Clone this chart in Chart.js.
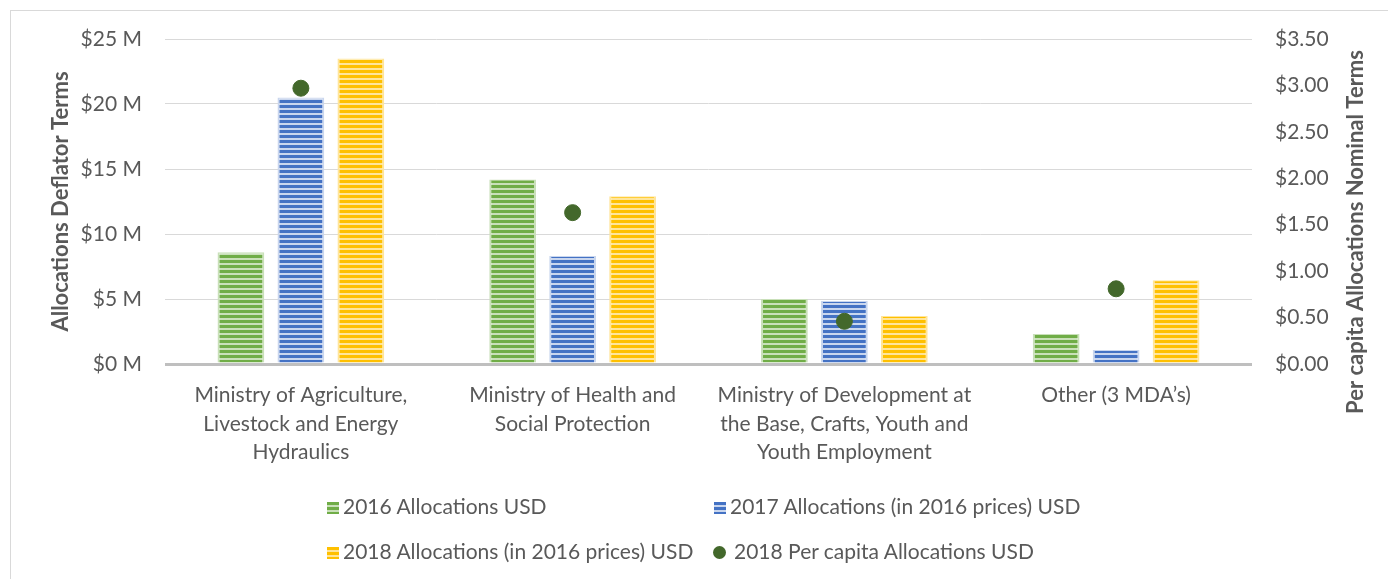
<!DOCTYPE html>
<html>
<head>
<meta charset="utf-8">
<script src="https://cdn.jsdelivr.net/npm/chart.js@4/dist/chart.umd.min.js"></script>
<style>
    body { margin: 0; background: #fff; }
    #wrap { position: relative; width: 1388px; height: 579px; overflow: hidden; }
    #frame { position: absolute; left: 10px; top: 10px; width: 1400px; height: 600px; border: 1px solid #d9d9d9; }
    canvas { position: absolute; left: 0; top: 0; }
    .lg { position: absolute; font: 21px Lato, 'Open Sans', sans-serif; color: #595959; white-space: nowrap; line-height: 24px; }
    .sw { display: inline-block; width: 12px; height: 12px; margin-right: 4px; vertical-align: 0px; }
    .dot { display: inline-block; width: 13px; height: 13px; border-radius: 50%; margin-right: 8px; vertical-align: 0px; }
</style>
</head>
<body>
<div id="wrap">
    <div id="frame"></div>
    <canvas id="rateChart" width="1388" height="579"></canvas>
    <div id="legend"></div>
</div>
<script>
// Categories and values
const categories = [
    ["Ministry of Agriculture,", "Livestock and Energy", "Hydraulics"],
    ["Ministry of Health and", "Social Protection"],
    ["Ministry of Development at", "the Base, Crafts, Youth and", "Youth Employment"],
    ["Other (3 MDA\u2019s)"]
];
const alloc2016 = [8.6, 14.2, 5.0, 2.3];
const alloc2017 = [20.5, 8.3, 4.85, 1.08];
const alloc2018 = [23.5, 12.9, 3.7, 6.45];
const perCapita2018 = [2.97, 1.63, 0.46, 0.81];
const leftTicks = [0, 5, 10, 15, 20, 25];
const rightTicks = [0, 0.5, 1, 1.5, 2, 2.5, 3, 3.5];

const seriesNames = [
    "2016 Allocations USD",
    "2017 Allocations (in 2016 prices) USD",
    "2018 Allocations (in 2016 prices) USD",
    "2018 Per capita Allocations USD"
];
const rightTitle = 'Per capita Allocations Nominal Terms';

const FONT = "Lato, 'Open Sans', sans-serif";
const TEXT = '#595959';

const canvas = document.getElementById('rateChart');
const ctx = canvas.getContext('2d');

// Horizontal striped fill like the Excel pattern
function stripes(base, light) {
    const c = document.createElement('canvas');
    c.width = 8;
    c.height = 5;
    const g = c.getContext('2d');
    g.fillStyle = base;
    g.fillRect(0, 0, 8, 5);
    g.fillStyle = light;
    g.fillRect(0, 3, 8, 2);
    return ctx.createPattern(c, 'repeat');
}

const colors = [
    { base: '#70AD47', light: '#c9e0b9' },
    { base: '#4472C4', light: '#c9d6ee' },
    { base: '#FFC000', light: '#ffe59a' }
];

function barSet(label, data, col) {
    return {
        type: 'bar',
        label: label,
        data: data,
        yAxisID: 'y',
        backgroundColor: stripes(col.base, col.light),
        borderColor: col.light,
        borderWidth: { left: 2, right: 2, top: 1, bottom: 0 },
        barPercentage: 0.78,
        categoryPercentage: 0.662,
        order: 1
    };
}

// right axis title sits a bit lower than centre in the original
const rightTitlePlugin = {
    id: 'rightTitle',
    afterDraw(c) {
        const g = c.ctx;
        g.save();
        g.translate(1356, 232);
        g.rotate(-Math.PI / 2);
        g.font = 'bold 22px ' + FONT;
        g.fillStyle = TEXT;
        g.textAlign = 'center';
        g.textBaseline = 'middle';
        g.fillText(rightTitle, 0, 0);
        g.restore();
    }
};

const chart = new Chart(ctx, {
    data: {
        labels: categories,
        datasets: [
            barSet(seriesNames[0], alloc2016, colors[0]),
            barSet(seriesNames[1], alloc2017, colors[1]),
            barSet(seriesNames[2], alloc2018, colors[2]),
            {
                type: 'line',
                label: seriesNames[3],
                data: perCapita2018,
                yAxisID: 'y1',
                showLine: false,
                pointRadius: 8,
                pointHoverRadius: 8,
                pointBackgroundColor: '#43682B',
                pointBorderColor: '#43682B',
                order: 0
            }
        ]
    },
    options: {
        responsive: false,
        animation: false,
        layout: { padding: { left: 48, right: 20, top: 39, bottom: 0 } },
        plugins: {
            legend: { display: false },
            tooltip: { enabled: false }
        },
        scales: {
            x: {
                grid: { display: false, drawTicks: false },
                border: { display: false },
                ticks: {
                    color: TEXT,
                    font: { family: FONT, size: 21, lineHeight: 1.36 },
                    padding: 17,
                    maxRotation: 0,
                    autoSkip: false
                },
                afterFit: s => { s.height = 215; }
            },
            y: {
                position: 'left',
                min: 0,
                max: 25,
                afterBuildTicks: s => { s.ticks = leftTicks.map(v => ({ value: v })); },
                grid: {
                    drawTicks: false,
                    color: c => c.tick && c.tick.value === 0 ? '#bfbfbf' : '#d9d9d9',
                    lineWidth: c => c.tick && c.tick.value === 0 ? 3 : 1
                },
                border: { display: false },
                ticks: {
                    color: TEXT,
                    font: { family: FONT, size: 21 },
                    padding: 23,
                    callback: v => '$' + v + ' M'
                },
                title: {
                    display: true,
                    text: 'Allocations Deflator Terms',
                    color: TEXT,
                    font: { family: FONT, size: 22, weight: 'bold' },
                    padding: 0
                },
                afterFit: s => { s.width = 117; }
            },
            y1: {
                position: 'right',
                min: 0,
                max: 3.5,
                afterBuildTicks: s => { s.ticks = rightTicks.map(v => ({ value: v })); },
                grid: { display: false, drawTicks: false },
                border: { display: false },
                ticks: {
                    color: TEXT,
                    font: { family: FONT, size: 21 },
                    padding: 23,
                    callback: v => '$' + v.toFixed(2)
                },
                afterFit: s => { s.width = 116; }
            }
        }
    },
    plugins: [rightTitlePlugin]
});

// Legend laid out as a 2x2 grid like the original
const legendPos = [
    { x: 327, y: 494 },
    { x: 714, y: 494 },
    { x: 327, y: 539 },
    { x: 713, y: 539 }
];
const legend = document.getElementById('legend');
seriesNames.forEach((name, i) => {
    const item = document.createElement('div');
    item.className = 'lg';
    item.style.left = legendPos[i].x + 'px';
    item.style.top = legendPos[i].y + 'px';
    let mark;
    if (i < 3) {
        const c = colors[i];
        mark = `<span class="sw" style="background: repeating-linear-gradient(to bottom, ${c.base} 0 3px, ${c.light} 3px 5px)"></span>`;
    } else {
        mark = `<span class="dot" style="background:#43682B"></span>`;
    }
    item.innerHTML = mark + name;
    legend.appendChild(item);
});
</script>
</body>
</html>
